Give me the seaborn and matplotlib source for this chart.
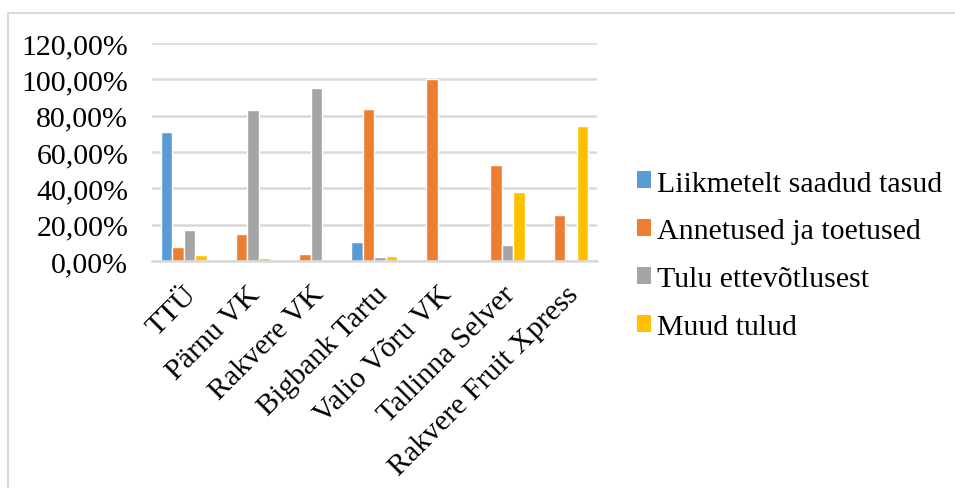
import pandas as pd
import numpy as np
import matplotlib.pyplot as plt
import seaborn as sns
from matplotlib.lines import Line2D
from matplotlib.patches import Patch
from matplotlib.ticker import FuncFormatter

# andmed (osakaal tuludest)
kategooriad = ["TTÜ", "Pärnu VK", "Rakvere VK", "Bigbank Tartu",
               "Valio Võru VK", "Tallinna Selver", "Rakvere Fruit Xpress"]
liikmetelt = [0.712, 0.0, 0.003, 0.105, 0.0, 0.0, 0.0]
annetused = [0.077, 0.147, 0.039, 0.837, 1.0, 0.527, 0.255]
ettevotlus = [0.173, 0.831, 0.954, 0.024, 0.0, 0.086, 0.0]
muud = [0.031, 0.018, 0.0, 0.030, 0.0, 0.382, 0.745]

seeriad = ["Liikmetelt saadud tasud", "Annetused ja toetused",
           "Tulu ettevõtlusest", "Muud tulud"]
varvid = ["#5B9BD5", "#ED7D31", "#A5A5A5", "#FFC000"]

df = pd.DataFrame({
    "Organisatsioon": kategooriad,
    seeriad[0]: liikmetelt,
    seeriad[1]: annetused,
    seeriad[2]: ettevotlus,
    seeriad[3]: muud,
})
df_long = df.melt(id_vars="Organisatsioon", var_name="Seeria", value_name="Osakaal")

sns.set_style("white")
plt.rcParams['font.family'] = ['Liberation Serif', 'DejaVu Serif']
plt.rcParams['text.color'] = 'black'

fs = 21.5

fig = plt.figure(figsize=(9.55, 4.89), dpi=100)
ax = fig.add_axes([0.159, 0.464, 0.466, 0.446])

sns.barplot(data=df_long, x="Organisatsioon", y="Osakaal", hue="Seeria",
            hue_order=seeriad, palette=varvid, width=4 / 5.5,
            saturation=1, ax=ax, legend=False)

ax.set_ylim(0, 1.2)
ax.set_yticks(np.arange(0, 1.21, 0.2))
ax.yaxis.set_major_formatter(FuncFormatter(lambda v, p: f"{v * 100:.2f}%".replace(".", ",")))
ax.grid(axis="y", color="#D9D9D9", linewidth=1.8)
ax.set_axisbelow(True)
for s in ["left", "right", "top"]:
    ax.spines[s].set_visible(False)
ax.spines["bottom"].set_color("#D9D9D9")
ax.spines["bottom"].set_linewidth(1.8)
ax.set_xlabel("")
ax.set_ylabel("")
ax.tick_params(axis="y", length=0, pad=17, labelsize=fs, labelcolor="black")
ax.tick_params(axis="x", length=0, pad=14, labelsize=fs, labelcolor="black")
plt.setp(ax.get_xticklabels(), rotation=45, ha="right", rotation_mode="anchor")

# legend
handles = [Patch(facecolor=c, edgecolor="none") for c in varvid]
fig.legend(handles, seeriad, loc="center left", bbox_to_anchor=(0.654, 0.476),
           frameon=False, fontsize=fs, handlelength=0.5, handleheight=0.5,
           handletextpad=0.2, labelspacing=0.73, borderaxespad=0)

# raam
y_top = 1 - 13.5 / 489
x_left = 7.5 / 955
fig.add_artist(Line2D([x_left, x_left], [0, y_top], color="#D9D9D9", linewidth=1.5))
fig.add_artist(Line2D([x_left, 1], [y_top, y_top], color="#D9D9D9", linewidth=1.5))

fig.savefig("out.png", dpi=100)
